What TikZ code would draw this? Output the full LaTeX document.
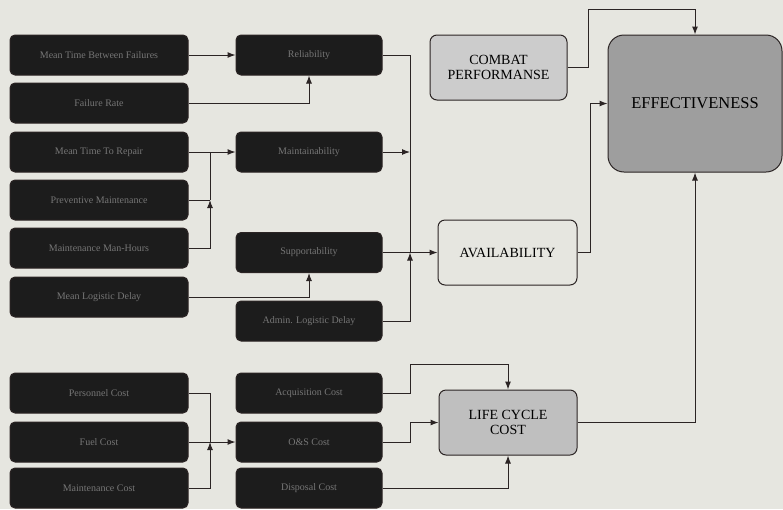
\documentclass[tikz,border=0pt]{standalone}
\usepackage{fontspec}
\setmainfont{Liberation Serif}
\usetikzlibrary{arrows.meta}
\definecolor{paper}{HTML}{E6E6E0}
\definecolor{darkbox}{HTML}{1C1C1C}
\definecolor{dimtext}{HTML}{767676}
\definecolor{ink}{HTML}{2B2424}
\begin{document}
\begin{tikzpicture}[x=1pt,y=-1pt,>={Latex[length=8pt,width=6pt]}]
			\tikzstyle{every path}=[line width=1pt,color=ink]
			\tikzstyle{dark}=[draw=ink,fill=darkbox,rounded corners=5pt,minimum width=178pt,minimum height=40pt,text=dimtext,font=\rmfamily,align=center,inner sep=2pt]
			\tikzstyle{darkmid}=[dark,minimum width=146pt]
			\tikzstyle{grey}=[draw=ink,rounded corners=7pt,minimum width=138pt,minimum height=65pt,text=black,font=\rmfamily\fontsize{14}{15}\selectfont,align=center,inner sep=2pt]
			\fill[paper] (0,0) rectangle (783,509);

			% left column
			\node (mtbf) at (99,55) [dark] {Mean Time Between Failures};
			\node (fr) at (99,103) [dark] {Failure Rate};
			\node (mttr) at (99,152) [dark] {Mean Time To Repair};
			\node (pm) at (99,200) [dark] {Preventive Maintenance};
			\node (mmh) at (99,248) [dark] {Maintenance Man-Hours};
			\node (mld) at (99,297) [dark] {Mean Logistic Delay};
			\node (pers) at (99,393) [dark] {Personnel Cost};
			\node (fuel) at (99,442) [dark] {Fuel Cost};
			\node (mcost) at (99,488) [dark] {Maintenance Cost};

			% middle column
			\node (rel) at (309,55) [darkmid] {Reliability};
			\node (main) at (309,152) [darkmid] {Maintainability};
			\node (sup) at (309,252.5) [darkmid] {Supportability};
			\node (ald) at (309,321) [darkmid] {Admin. Logistic Delay};
			\node (acq) at (309,393) [darkmid] {Acquisition Cost};
			\node (os) at (309,442) [darkmid] {O\&S Cost};
			\node (disp) at (309,488) [darkmid] {Disposal Cost};

			% right side
			\node (combat) at (498.5,67.5) [grey,fill=black!20,minimum width=137pt] {COMBAT\\PERFORMANSE};
			\node (avail) at (507.5,252.5) [grey,fill=paper,minimum width=139pt] {AVAILABILITY};
			\node (lcc) at (508,422.5) [grey,fill=black!25] {LIFE CYCLE\\COST};
			\node (eff) at (695,103.5) [grey,fill=black!38,rounded corners=16pt,minimum width=174pt,minimum height=137pt,font=\rmfamily\fontsize{16.5}{17}\selectfont] {EFFECTIVENESS};

			\coordinate (j1) at (210,200);
			\coordinate (ja) at (410,252.5);
			\coordinate (j2) at (210,442);

			\draw [->] (mtbf) -- (rel);
			\draw [->] (fr.east) -| (rel.south);
			\draw [->] (mttr) -- (main);
			\draw (pm.east) -- (j1);
			\draw [->] (mmh.east) -| (j1);
			\draw (j1) -- (j1 |- mttr.east);
			\draw [->] (mld.east) -| (sup.south);

			\draw (rel.east) -| (ja);
			\draw [->] (main.east) -- (main.east -| ja);
			\draw (sup.east) -- (ja);
			\draw [->] (ald.east) -| (ja);
			\draw [->] (ja) -- (avail.west);

			\draw [->] (avail.east) -- ++(13,0) |- (eff.west);
			\draw [->] (combat.east) -- ++(21,0) |- ([yshift=25pt]eff.north) -- (eff.north);
			\draw [->] (lcc.east) -| (eff.south);

			\draw (pers.east) -| (j2);
			\draw [->] (mcost.east) -| (j2);
			\draw [->] (fuel) -- (os);
			\draw [->] (acq.east) -- ++(28,0) |- ([yshift=25pt]lcc.north) -- (lcc.north);
			\draw [->] (os.east) -- ++(28,0) |- (lcc.west);
			\draw [->] (disp.east) -| (lcc.south);
		\end{tikzpicture}
\end{document}
